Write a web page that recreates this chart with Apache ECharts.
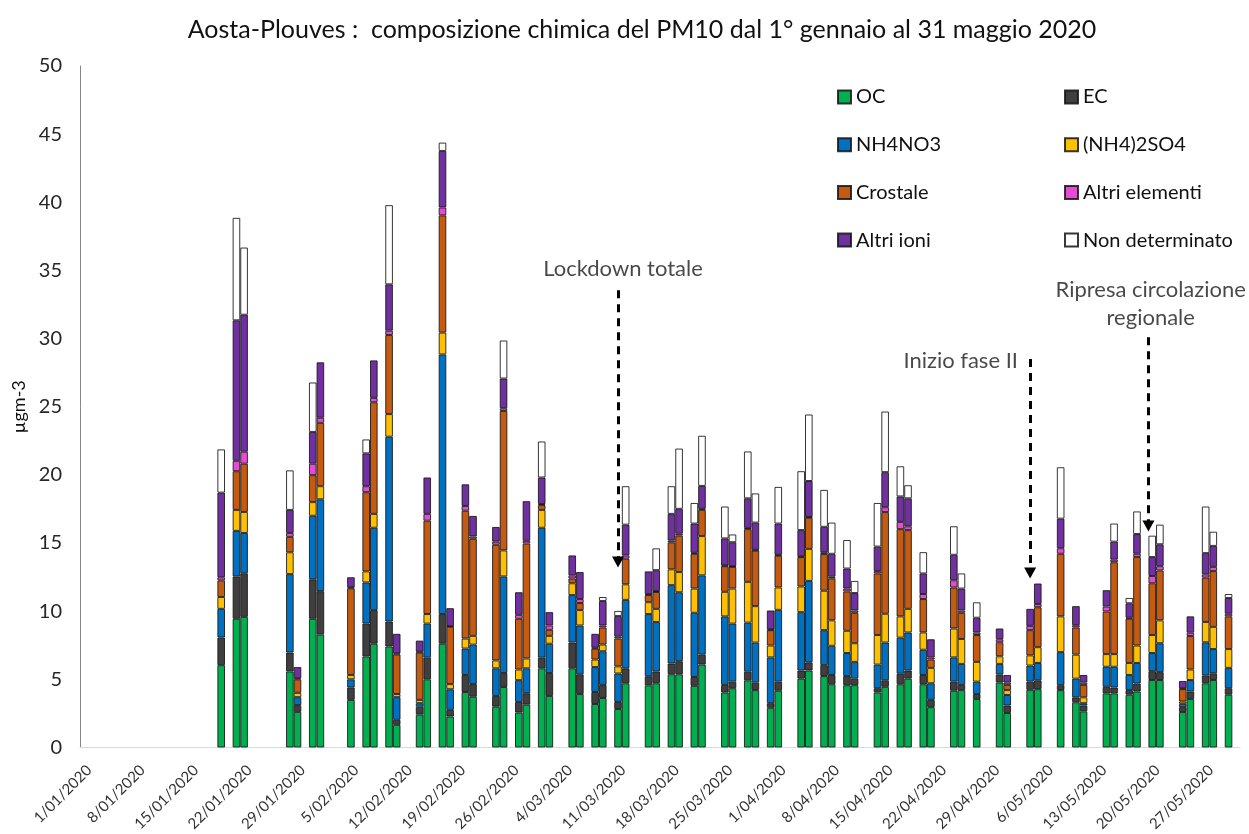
<!DOCTYPE html>
<html>
<head>
<meta charset="utf-8">
<script src="https://cdn.jsdelivr.net/npm/echarts@6/dist/echarts.min.js"></script>
<style>
  html, body { margin: 0; padding: 0; background: #fff; }
  #chart { width: 1249px; height: 834px; }
</style>
</head>
<body>
<div id="chart"></div>
<script>
// Sampling days and PM10 component masses (µg/m3), one entry per sampled day
const sampleDates = [
  '19/01/2020','21/01/2020','22/01/2020','28/01/2020','29/01/2020','31/01/2020','1/02/2020','5/02/2020',
  '7/02/2020','8/02/2020','10/02/2020','11/02/2020','14/02/2020','15/02/2020','17/02/2020','18/02/2020',
  '20/02/2020','21/02/2020','24/02/2020','25/02/2020','27/02/2020','28/02/2020','1/03/2020','2/03/2020',
  '5/03/2020','6/03/2020','8/03/2020','9/03/2020','11/03/2020','12/03/2020','15/03/2020','16/03/2020',
  '18/03/2020','19/03/2020','21/03/2020','22/03/2020','25/03/2020','26/03/2020','28/03/2020','29/03/2020',
  '31/03/2020','1/04/2020','4/04/2020','5/04/2020','7/04/2020','8/04/2020','10/04/2020','11/04/2020',
  '14/04/2020','15/04/2020','17/04/2020','18/04/2020','20/04/2020','21/04/2020','24/04/2020','25/04/2020',
  '27/04/2020','30/04/2020','1/05/2020','4/05/2020','5/05/2020','8/05/2020','10/05/2020','11/05/2020',
  '14/05/2020','15/05/2020','17/05/2020','18/05/2020','20/05/2020','21/05/2020','24/05/2020','25/05/2020',
  '27/05/2020','28/05/2020','30/05/2020'
];
const OC = [
  6.04,9.44,9.58,5.58,2.61,9.44,8.28,3.49, 6.68,7.61,7.41,1.66,2.41,5.00,7.61,2.27,
  4.07,3.72,2.99,4.44,2.56,3.14,5.81,3.78, 5.81,3.92,3.19,3.63,2.82,4.71,4.56,4.71,
  5.37,5.37,4.52,6.08,4.04,4.35,4.93,4.21, 2.91,4.16,5.05,5.65,5.24,4.64,4.57,4.57,
  4.04,4.45,4.64,5.05,4.64,2.96,4.16,4.21, 3.56,4.76,2.53,4.23,4.28,4.21,3.32,2.65,
  3.97,3.97,3.87,4.11,4.95,4.95,2.60,3.56, 4.71,4.95,3.87
];
const EC = [
  2.03,3.11,3.20,1.39,0.50,2.90,3.19,0.92, 2.41,2.47,1.83,0.37,0.58,1.59,2.18,0.49,
  1.25,0.93,0.79,1.02,0.78,0.84,0.78,1.68, 1.89,1.45,0.88,0.96,0.52,1.10,0.67,0.87,
  0.79,0.96,0.65,0.73,0.55,0.48,0.63,0.55, 0.34,0.67,0.60,0.60,0.80,0.68,0.67,0.48,
  0.31,0.48,0.77,0.60,0.68,0.53,0.67,0.38, 0.36,0.60,0.55,0.60,0.65,0.36,0.36,0.43,
  0.48,0.43,0.34,0.58,0.65,0.58,0.36,0.55, 0.58,0.49,0.48
];
const NH4NO3 = [
  2.10,3.34,2.96,5.75,0.58,4.66,6.74,0.59, 3.02,6.04,13.56,1.66,0.26,2.50,19.05,1.51,
  1.94,2.90,2.03,7.09,1.60,1.83,9.53,2.15, 3.48,3.58,1.83,2.47,2.09,5.02,4.56,3.63,
  5.75,5.06,4.71,5.82,5.03,4.26,3.60,2.94, 3.36,5.27,4.28,5.97,2.57,2.14,1.69,1.23,
  1.73,2.77,2.65,2.79,1.85,1.22,1.78,1.54, 0.91,0.77,0.77,1.18,1.27,2.43,1.37,0.17,
  1.47,1.52,1.11,1.51,1.33,2.12,0.24,0.84, 2.43,1.78,1.49
];
const NH42SO4 = [
  0.87,1.54,1.54,1.60,0.32,1.00,0.96,0.32, 0.81,1.02,1.66,0.23,0.24,0.70,1.60,0.38,
  0.73,0.64,0.58,1.91,0.78,0.72,1.31,0.58, 0.87,1.13,0.55,0.49,0.52,1.14,0.87,0.96,
  1.16,1.48,1.78,2.88,1.80,2.57,2.99,2.67, 0.87,1.64,1.88,2.35,2.89,1.87,1.63,1.37,
  2.17,2.11,1.56,1.73,1.27,1.13,2.12,1.83, 1.45,0.56,0.36,0.75,1.16,2.62,1.76,0.43,
  0.93,0.93,0.88,1.28,1.32,1.68,0.17,0.77, 1.49,1.63,1.38
];
const CROSTALE = [
  1.22,2.84,3.54,1.13,0.99,1.98,4.65,6.36, 5.81,8.19,5.80,2.91,3.48,6.85,8.60,4.21,
  9.38,7.12,8.48,10.23,3.72,8.43,0.35,0.44, 0.35,0.52,0.81,1.25,2.04,1.88,0.52,1.24,
  1.98,2.67,2.55,1.93,1.88,1.59,3.87,4.08, 1.13,2.33,2.16,2.29,2.69,3.08,2.89,2.23,
  4.52,7.46,6.40,5.78,2.45,0.61,3.01,1.92, 1.97,1.03,0.38,1.85,2.93,4.59,1.99,0.91,
  3.13,6.74,3.25,6.49,3.80,3.66,0.91,2.46, 3.25,4.09,2.40
];
const ALTRI_ELEMENTI = [
  0.23,0.76,0.88,0.29,0.08,0.84,0.37,0.07, 0.44,0.32,0.32,0.07,0.06,0.50,0.58,0.04,
  0.35,0.17,0.23,0.20,0.29,0.20,0.08,0.32, 0.23,0.29,0.06,0.15,0.14,0.24,0.07,0.06,
  0.14,0.14,0.07,0.07,0.06,0.05,0.09,0.05, 0.05,0.06,0.05,0.05,0.14,0.12,0.21,0.17,
  0.17,0.36,0.53,0.28,0.37,0.16,0.53,0.17, 0.19,0.22,0.17,0.31,0.24,0.41,0.17,0.17,
  0.36,0.19,0.07,0.24,0.53,0.31,0.05,0.24, 0.24,0.31,0.19
];
const ALTRI_IONI = [
  6.21,10.31,10.05,1.69,0.82,2.33,4.07,0.74, 2.41,2.75,3.40,1.44,0.81,2.67,4.15,1.32,
  1.59,1.51,1.08,2.18,1.66,2.91,1.95,0.98, 1.46,1.98,1.02,1.80,1.51,2.26,1.67,1.54,
  1.95,1.83,2.15,1.68,1.98,1.76,2.17,2.00, 1.39,2.30,1.93,2.64,1.86,1.68,1.47,1.28,
  1.80,2.57,1.87,2.05,1.51,1.33,1.87,1.61, 1.08,0.79,0.56,1.25,1.50,2.17,1.40,0.56,
  1.20,1.32,1.06,1.45,1.39,1.61,0.55,1.20, 1.56,1.54,1.16
];
const NON_DETERMINATO = [
  3.17,7.52,4.93,2.90,0,3.63,0,0, 1.02,0,5.81,0,0,0,0.61,0,
  0,0,0,2.79,0,0,2.64,0, 0,0,0,0.29,0.38,2.82,0,1.60,
  2.03,4.42,1.51,3.68,2.34,0.57,3.44,2.14, 0,2.69,4.32,4.88,2.71,2.29,2.09,0.89,
  3.20,4.45,2.21,0.96,1.56,0,2.09,1.11, 1.13,0,0,0,0,3.77,0,0,
  0,1.33,0.39,1.66,1.57,1.44,0,0, 3.42,1.04,0.29
];

// Event annotations: day position on the date axis (index from 1 Jan) and arrow span in µg/m3
const EVENT_NAMES = ['Lockdown totale', 'Inizio fase II', 'Ripresa circolazione\nregionale'];
const EVENT_DAY = [70, 124, 139.5];
const EVENT_FROM = [33.55, 28.5, 30.1];
const EVENT_TO = [13.6, 12.8, 16.25];
const EVENT_TEXT_POS = [[70.65, 35.14], [114.9, 28.35], [139.8, 32.54]];

// Y axis ticks
const Y_MIN = 0, Y_MAX = 50, Y_STEP = 5;

// Full daily calendar 1 Jan – 31 May 2020
const MONTH_DAYS = [31, 29, 31, 30, 31];
const allDays = [];
MONTH_DAYS.forEach((n, m) => {
  for (let d = 1; d <= n; d++) allDays.push(d + '/' + String(m + 1).padStart(2, '0') + '/2020');
});

function spread(values) {
  const byDate = new Map(sampleDates.map((d, i) => [d, values[i]]));
  return allDays.map(d => {
    const v = byDate.get(d);
    return (v === undefined || v === 0) ? '-' : v;
  });
}

const FONT = 'Lato';
const components = [
  { name: 'OC', values: OC, color: '#00B050' },
  { name: 'EC', values: EC, color: '#3F3F3F' },
  { name: 'NH4NO3', values: NH4NO3, color: '#0070C0' },
  { name: '(NH4)2SO4', values: NH42SO4, color: '#FFC000' },
  { name: 'Crostale', values: CROSTALE, color: '#C55A11' },
  { name: 'Altri elementi', values: ALTRI_ELEMENTI, color: '#E64BD6' },
  { name: 'Altri ioni', values: ALTRI_IONI, color: '#7030A0' },
  { name: 'Non determinato', values: NON_DETERMINATO, color: '#FFFFFF' }
];

const barSeries = components.map(c => ({
  name: c.name,
  type: 'bar',
  stack: 'pm10',
  xAxisIndex: 0,
  yAxisIndex: 0,
  barCategoryGap: '0%',
  data: spread(c.values),
  itemStyle: { color: c.color, borderColor: 'rgba(20,20,20,0.85)', borderWidth: 1 },
  emphasis: { disabled: true }
}));

const annotationSeries = {
  name: 'eventi',
  type: 'scatter',
  xAxisIndex: 1,
  yAxisIndex: 0,
  symbolSize: 0,
  silent: true,
  data: EVENT_TEXT_POS.map((p, i) => ({ value: p, name: EVENT_NAMES[i] })),
  label: {
    show: true,
    position: 'inside',
    formatter: p => p.name,
    fontFamily: FONT,
    fontSize: 22,
    lineHeight: 28,
    color: '#1a1a1a',
    align: 'center',
    verticalAlign: 'middle'
  },
  markLine: {
    silent: true,
    animation: false,
    symbol: ['none', 'triangle'],
    symbolSize: [12, 11],
    lineStyle: { color: '#000', width: 3, type: [8, 6] },
    label: { show: false },
    data: EVENT_DAY.map((x, i) => [
      { coord: [x, EVENT_FROM[i]] },
      { coord: [x, EVENT_TO[i]] }
    ])
  }
};

const legendBase = {
  orient: 'vertical',
  top: 80,
  itemWidth: 13,
  itemHeight: 13,
  itemGap: 23.7,
  icon: 'rect',
  selectedMode: false,
  textStyle: { fontFamily: FONT, fontSize: 20, color: '#111', lineHeight: 24 }
};

const option = {
  animation: false,
  backgroundColor: '#ffffff',
  title: {
    text: 'Aosta-Plouves :  composizione chimica del PM10 dal 1° gennaio al 31 maggio 2020',
    left: 637,
    top: 12,
    textAlign: 'center',
    textStyle: { fontFamily: FONT, fontSize: 25, fontWeight: 'normal', color: '#111' }
  },
  legend: [
    Object.assign({}, legendBase, { left: 832, data: ['OC', 'NH4NO3', 'Crostale', 'Altri ioni'] }),
    Object.assign({}, legendBase, { left: 1059, data: ['EC', '(NH4)2SO4', 'Altri elementi', 'Non determinato'] })
  ],
  grid: { left: 80, right: 9, top: 66, bottom: 74, containLabel: false },
  xAxis: [
    {
      type: 'category',
      data: allDays,
      boundaryGap: true,
      axisLine: { show: true, lineStyle: { color: '#D9D9D9', width: 1 } },
      axisTick: { show: false },
      axisLabel: {
        interval: 6,
        rotate: 45,
        verticalAlign: 'top',
        margin: 15,
        fontFamily: FONT,
        fontSize: 15,
        color: '#333'
      },
      splitLine: { show: false }
    },
    {
      type: 'value',
      min: -0.5,
      max: allDays.length - 0.5,
      show: false
    }
  ],
  yAxis: {
    type: 'value',
    min: Y_MIN,
    max: Y_MAX,
    interval: Y_STEP,
    name: 'µgm-3',
    nameLocation: 'middle',
    nameRotate: 90,
    nameGap: 44,
    nameTextStyle: { fontFamily: FONT, fontSize: 18, color: '#111' },
    axisLine: { show: true, onZero: false, lineStyle: { color: '#868686', width: 1 } },
    axisTick: { show: false },
    splitLine: { show: false },
    axisLabel: { margin: 18, fontFamily: FONT, fontSize: 20, color: '#262626' }
  },
  series: barSeries.concat([annotationSeries])
};

const chart = echarts.init(document.getElementById('chart'), null, { renderer: 'canvas' });
chart.setOption(option);
</script>
</body>
</html>
